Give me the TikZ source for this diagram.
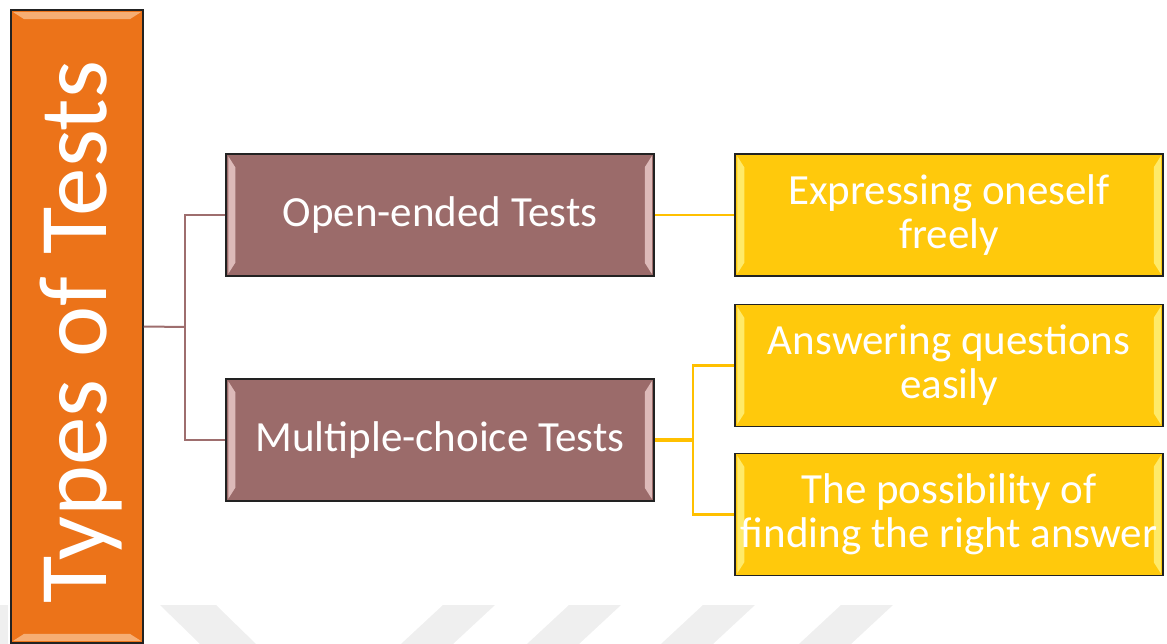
\documentclass[tikz,border=0pt]{standalone}
\usepackage{fontspec}
\setmainfont{Carlito}
\usetikzlibrary{calc}

\definecolor{orangefill}{HTML}{EC7319}
\definecolor{orangelight}{HTML}{F8B57E}
\definecolor{brownfill}{HTML}{9B6B6A}
\definecolor{brownlight}{HTML}{E9C9C8}
\definecolor{brownline}{HTML}{9E6E6E}
\definecolor{goldfill}{HTML}{FFC90C}
\definecolor{goldlight}{HTML}{FFF07A}
\definecolor{goldline}{HTML}{FFC000}
\definecolor{edge}{HTML}{222222}
\definecolor{stripe}{HTML}{EFEFEF}

\tikzset{
  box/.style={draw=edge, line width=1.5pt, rectangle, inner sep=0pt,
    minimum width=428pt, minimum height=122pt},
  titlebox/.style={draw=edge, line width=1.5pt, rectangle, inner sep=0pt,
    fill=orangefill, minimum width=132pt, minimum height=633pt},
  branchbox/.style={box, fill=brownfill},
  leafbox/.style={box, fill=goldfill},
  label/.style={text=white, align=center, inner sep=0pt,
    font=\fontsize{43}{44}\selectfont},
  brownlink/.style={draw=brownline, line width=2pt},
  goldlink/.style={draw=goldline, line width=2.5pt},
}

% side bevels of a box (left and right edges)
\newcommand\drawvbevel[2]{%
  \fill[#2, opacity=0.85]
    ([xshift=3pt,yshift=-3pt]#1.north west) -- ([xshift=10pt,yshift=-14pt]#1.north west)
    -- ([xshift=10pt,yshift=14pt]#1.south west) -- ([xshift=3pt,yshift=3pt]#1.south west) -- cycle;
  \fill[#2, opacity=0.85]
    ([xshift=-3pt,yshift=-3pt]#1.north east) -- ([xshift=-10pt,yshift=-14pt]#1.north east)
    -- ([xshift=-10pt,yshift=14pt]#1.south east) -- ([xshift=-3pt,yshift=3pt]#1.south east) -- cycle;
}
% top and bottom bevels of a box
\newcommand\drawhbevel[2]{%
  \fill[#2, opacity=0.9]
    ([xshift=3pt,yshift=-3pt]#1.north west) -- ([xshift=-3pt,yshift=-3pt]#1.north east)
    -- ([xshift=-14pt,yshift=-10pt]#1.north east) -- ([xshift=14pt,yshift=-10pt]#1.north west) -- cycle;
  \fill[#2, opacity=0.9]
    ([xshift=3pt,yshift=3pt]#1.south west) -- ([xshift=-3pt,yshift=3pt]#1.south east)
    -- ([xshift=-14pt,yshift=10pt]#1.south east) -- ([xshift=14pt,yshift=10pt]#1.south west) -- cycle;
}

\begin{document}
\begin{tikzpicture}[x=1pt, y=-1pt]
\useasboundingbox (0,0) rectangle (1167,644);

% faint slanted stripes along the bottom edge
\foreach \a in {443, 569, 703, 841} {
  \fill[stripe] (\a,605) -- (\a+52,605) -- (\a+10,644) -- (\a-42,644) -- cycle;
}
\fill[stripe] (160,605) -- (216,605) -- (256,644) -- (200,644) -- cycle;
\fill[stripe] (0,605) -- (8,605) -- (8,644) -- (0,644) -- cycle;

% title column
\node[titlebox] (types) at (77,326.5) {};
\drawhbevel{types}{orangelight}
\node[label, rotate=90, font=\fontsize{97}{97}\selectfont]
  (typeslabel) at (81,332) {Types of Tests};

% boxes for the test kinds and their features
\node[branchbox] (open)    at (440,215) {};
\node[branchbox] (multi)   at (440,440) {};
\node[leafbox]   (express) at (949,215) {};
\node[leafbox]   (answer)  at (949,365.5) {};
\node[leafbox]   (possib)  at (949,514.5) {};
\drawvbevel{open}{brownlight}
\drawvbevel{multi}{brownlight}
\drawvbevel{express}{goldlight}
\drawvbevel{answer}{goldlight}
\drawvbevel{possib}{goldlight}

% box texts
\node[label] (openlabel)    at (open)    {Open-ended Tests};
\node[label] (multilabel)   at (multi)   {Multiple-choice Tests};
\node[label] (expresslabel) at (express) {Expressing oneself\\freely};
\node[label] (answerlabel)  at (answer)  {Answering questions\\easily};
\node[label] (possiblabel)  at (possib)  {The possibility of\\finding the right answer};

% connectors
\coordinate (bj) at (185,327);
\coordinate (yj) at (693,440);
\draw[brownlink] (types.east) -- (bj);
\draw[brownlink] (open.west) -| (bj) |- (multi.west);
\draw[goldlink] (open.east) -- (express.west);
\draw[goldlink, line width=3.5pt] (multi.east) -- (yj);
\draw[goldlink] (answer.west) -| (yj) |- (possib.west);
\end{tikzpicture}
\end{document}
